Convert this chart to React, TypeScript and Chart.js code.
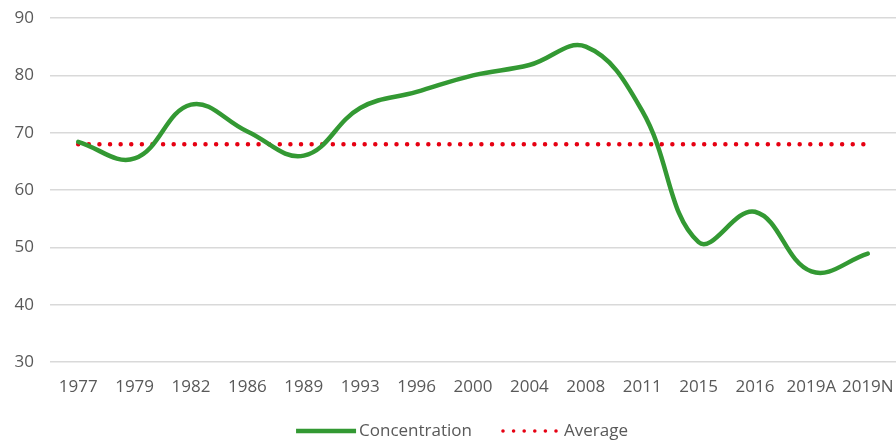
import React, { useEffect, useRef } from "react";
import { Chart, registerables } from "chart.js";

Chart.register(...registerables);

const categories = ["1977", "1979", "1982", "1986", "1989", "1993", "1996", "2000", "2004", "2008", "2011", "2015", "2016", "2019A", "2019N"];
const concentration = [68.4, 65.5, 74.9, 70.2, 66.0, 74.3, 77.1, 80.0, 81.8, 85.0, 73.8, 50.9, 56.2, 45.8, 48.9];
const averageValue = 68;
const average = categories.map(() => averageValue);
const yTicks = [30, 40, 50, 60, 70, 80, 90];

const FONT = "'Open Sans', 'Liberation Sans', sans-serif";
const TEXT = "#595959";
const GREEN = "#339933";
const RED = "#e60012";

const legendPlugin = {
  id: "customLegend",
  afterDraw(chart: any) {
    const ctx = chart.ctx as CanvasRenderingContext2D;
    const y = 431;
    ctx.save();
    ctx.font = `17px ${FONT}`;
    ctx.textBaseline = "middle";
    ctx.fillStyle = TEXT;
    const items = chart.data.datasets.map((ds: any) => {
      const dotted = !!(ds.borderDash && ds.borderDash.length);
      return {
        label: ds.label as string,
        color: ds.borderColor as string,
        dotted,
        sampleW: dotted ? 53 : 60,
        gapSample: dotted ? 8 : 3,
        width: ctx.measureText(ds.label).width,
      };
    });
    const gapItem = 31;
    let total = 0;
    items.forEach((it: any, i: number) => {
      total += it.sampleW + it.gapSample + it.width + (i < items.length - 1 ? gapItem : 0);
    });
    let x = chart.width / 2 + 14 - total / 2;
    items.forEach((it: any) => {
      if (it.dotted) {
        ctx.fillStyle = it.color;
        const n = 6;
        for (let i = 0; i < n; i++) {
          ctx.beginPath();
          ctx.arc(x + (it.sampleW * i) / (n - 1), y, 1.8, 0, Math.PI * 2);
          ctx.fill();
        }
      } else {
        ctx.beginPath();
        ctx.strokeStyle = it.color;
        ctx.lineWidth = 4.5;
        ctx.lineCap = "butt";
        ctx.moveTo(x, y);
        ctx.lineTo(x + it.sampleW, y);
        ctx.stroke();
      }
      x += it.sampleW + it.gapSample;
      ctx.fillStyle = TEXT;
      ctx.fillText(it.label, x, y);
      x += it.width + gapItem;
    });
    ctx.restore();
  },
};

export default function App() {
  const ref = useRef<HTMLCanvasElement | null>(null);
  useEffect(() => {
    if (!ref.current) return;
    const chart = new Chart(ref.current, {
      type: "line",
      data: {
        labels: categories,
        datasets: [
          {
            label: "Concentration",
            data: concentration,
            borderColor: GREEN,
            backgroundColor: GREEN,
            borderWidth: 4.5,
            tension: 0.4,
            pointRadius: 0,
            pointHoverRadius: 0,
            borderCapStyle: "round",
            fill: false,
          },
          {
            label: "Average",
            data: average,
            borderColor: RED,
            backgroundColor: RED,
            borderWidth: 4.5,
            borderDash: [0.01, 10.6],
            borderCapStyle: "round",
            pointRadius: 0,
            pointHoverRadius: 0,
            tension: 0,
            fill: false,
          },
        ],
      },
      options: {
        responsive: false,
        animation: false,
        devicePixelRatio: 1,
        layout: { padding: { top: 18, right: 0, left: 0, bottom: 40 } },
        plugins: {
          tooltip: { enabled: false },
          legend: { display: false },
        },
        scales: {
          x: {
            offset: true,
            afterFit: (s: any) => { s.height = 40; s.paddingLeft = 0; s.paddingRight = 0; },
            grid: { display: false, drawTicks: false },
            border: { display: false },
            ticks: { color: TEXT, font: { family: FONT, size: 17 }, padding: 15, maxRotation: 0, autoSkip: false },
          },
          y: {
            min: 30,
            max: 90,
            afterFit: (s: any) => { s.width = 50; s.paddingTop = 0; s.paddingBottom = 0; },
            afterBuildTicks: (s: any) => { s.ticks = yTicks.map((v) => ({ value: v })); },
            grid: { color: "#d9d9d9", lineWidth: 1.5, drawTicks: false },
            border: { display: false },
            ticks: { color: TEXT, font: { family: FONT, size: 17 }, padding: 16 },
          },
        },
      },
      plugins: [legendPlugin],
    });
    return () => chart.destroy();
  }, []);
  return (
    <div style={{ position: "fixed", left: 0, top: 0, width: 896, height: 442, background: "#fff" }}>
      <canvas ref={ref} width={896} height={442} style={{ display: "block", width: 896, height: 442 }} />
    </div>
  );
}
